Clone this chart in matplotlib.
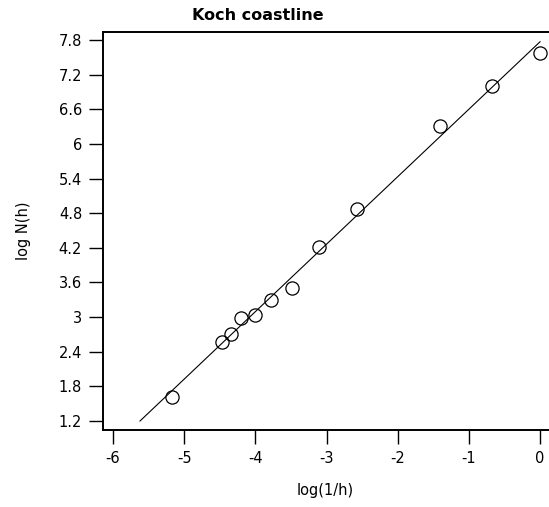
import matplotlib
matplotlib.use("Agg")
import matplotlib.pyplot as plt

# Koch coastline: log N(h) against log(1/h)
log_inv_h = [-5.17, -4.47, -4.34, -4.20, -4.01, -3.78, -3.48, -3.10, -2.57, -1.40, -0.68, 0.0]
log_n = [1.61, 2.57, 2.71, 2.99, 3.03, 3.30, 3.51, 4.21, 4.87, 6.31, 7.01, 7.58]

# fitted line end points
fit_x = [-5.62, 0.0]
fit_y = [1.20, 7.77]

x_ticks = [-6, -5, -4, -3, -2, -1, 0]
y_ticks = [1.2, 1.8, 2.4, 3.0, 3.6, 4.2, 4.8, 5.4, 6.0, 6.6, 7.2, 7.8]
y_tick_labels = ["1.2", "1.8", "2.4", "3", "3.6", "4.2", "4.8", "5.4", "6", "6.6", "7.2", "7.8"]

plt.rcParams["font.family"] = "DejaVu Sans"

fig = plt.figure(figsize=(5.49, 5.07), dpi=100)
# axes run past the right edge of the figure, as in the original
ax = fig.add_axes([103 / 549, 1 - 430 / 507, 455 / 549, (430 - 31.7) / 507])

ax.plot(fit_x, fit_y, color="black", lw=0.8)
ax.plot(log_inv_h, log_n, "o", mfc="none", mec="black", ms=9.5, mew=0.9)

ax.set_xlim(-6.14, 0.252)
ax.set_ylim(1.044, 7.944)
ax.set_xticks(x_ticks)
ax.set_xticklabels([str(t) for t in x_ticks])
ax.set_yticks(y_ticks)
ax.set_yticklabels(y_tick_labels)

ax.spines["right"].set_visible(False)
for s in ["left", "top", "bottom"]:
    ax.spines[s].set_linewidth(1.4)
ax.tick_params(direction="out", length=10, width=1.0, labelsize=10.5, colors="black")
ax.tick_params(axis="x", pad=5)
ax.tick_params(axis="y", pad=5)

ax.set_xlabel("log(1/h)", fontsize=10.5)
ax.xaxis.set_label_coords((325 - 103) / 455, -0.132)
ax.set_ylabel("log N(h)", fontsize=10.5, labelpad=20)
fig.text(258 / 549, 1 - 16 / 507, "Koch coastline", ha="center", va="center",
         fontsize=11.5, fontweight="bold")

fig.savefig("out.png", dpi=100)
